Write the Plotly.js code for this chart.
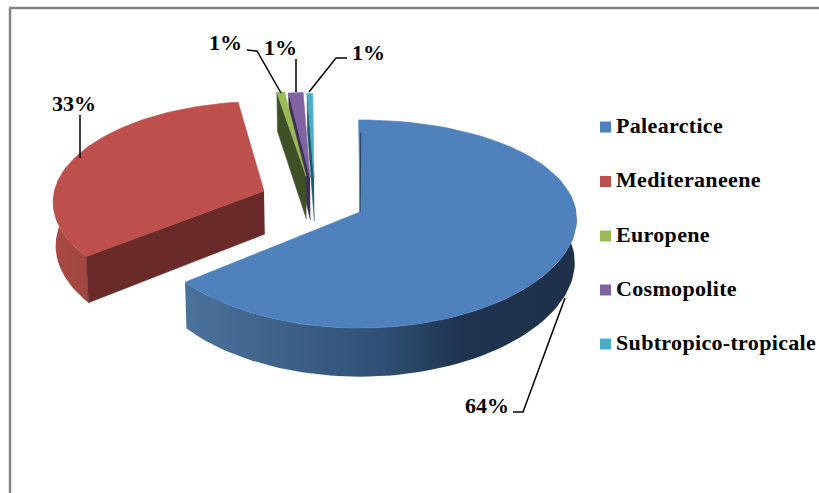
<!DOCTYPE html>
<html>
<head>
<meta charset="utf-8">
<script src="https://cdn.plot.ly/plotly-3.0.1.min.js"></script>
<style>html,body{margin:0;padding:0;background:#fff}#c{width:819px;height:493px}
#c .textpoint text{letter-spacing:.33px}</style>
</head>
<body>
<div id="c"></div>
<script>
// ---- data ----
var categories = ['Palearctice','Mediteraneene','Europene','Cosmopolite','Subtropico-tropicale'];
var values = [64.2, 33.3, 0.7, 1.3, 0.5];
var labels = ['64%','33%','1%','1%','1%'];

// ---- styles ----
var topColors  = ['#4f81bd','#bd504c','#9bbb59','#8064a2','#4bacc6'];
var faceColors = ['#1e3450','#6b2a2a','#3f4f26','#3e3055','#1d5a6a'];
var apexX   = [360,264,306,310,314];
var apexY   = [212,191,176,177,178];
var radius  = [1,0.97,0.91,0.91,0.91];
var twist   = [0,1.5,0,0,0];
var kx      = [0.07,0.115,0.115,0.115,0.115];
var ROT=-0.4, RX=216, RY=102.7, K=0.115, H=43, BASE_SCALE=0.992, CX=360;
var FONT='"Liberation Serif", "Times New Roman", serif';
var blueWallScale=[[0,'rgb(76,114,156)'],[0.5,'rgb(48,80,118)'],[0.7,'rgb(31,52,80)'],[1,'rgb(30,48,72)']];
var redWallScale=[[0,'rgb(170,75,69)'],[1,'rgb(160,70,64)']];

function pt(i,deg,r,z){
  var a=deg*Math.PI/180, u=Math.sin(a)*r*radius[i], v=-Math.cos(a)*r*radius[i], s=1/(1-K*v), sx=1/(1-kx[i]*v);
  var x=apexX[i]+RX*u*sx, y=apexY[i]+RY*v*s;
  if(z){x=CX+(x-CX)*BASE_SCALE; y+=H*s;}
  return [x,y];
}
var total=values.reduce(function(a,b){return a+b},0);
var starts=[],ends=[],acc=ROT;
values.forEach(function(v,i){starts.push(acc+twist[i]);acc+=v/total*360;ends.push(acc+twist[i]);});

var traces=[];
function poly(points,color){
  traces.push({type:'scatter',mode:'lines',x:points.map(function(p){return p[0]}),y:points.map(function(p){return p[1]}),
    fill:'toself',fillcolor:color,line:{color:color,width:0.6},hoverinfo:'skip',showlegend:false});
}
function gradPoly(points,scale){
  traces.push({type:'scatter',mode:'lines',x:points.map(function(p){return p[0]}),y:points.map(function(p){return p[1]}),
    fill:'toself',fillgradient:{type:'horizontal',colorscale:scale},line:{width:0},hoverinfo:'skip',showlegend:false});
}
function arc(i,a0,a1,z,n){var o=[];for(var k=0;k<=n;k++){o.push(pt(i,a0+(a1-a0)*k/n,1,z));}return o;}
function topFace(i){
  var p=[pt(i,0,0,false)].concat(arc(i,starts[i],ends[i],false,80));p.push(pt(i,0,0,false));poly(p,topColors[i]);
}
function radialWall(i,deg,color){
  poly([pt(i,0,0,false),pt(i,deg,1,false),pt(i,deg,1,true),pt(i,0,0,true)],color);
}
function outerWall(i,a0,a1,scale){
  gradPoly(arc(i,a0,a1,false,80).concat(arc(i,a1,a0,true,80)),scale);
}
// back slices first
[4,3,2].forEach(function(i){radialWall(i,starts[i],faceColors[i]);topFace(i);});
// red
outerWall(1,starts[1],285,redWallScale);
radialWall(1,starts[1],faceColors[1]);
topFace(1);
// blue
outerWall(0,ends[0],80,blueWallScale);
topFace(0);
var s0=pt(0,starts[0],0.85,false),s1=pt(0,0,0,false);
traces.push({type:'scatter',mode:'lines',x:[s0[0]+2,s1[0]],y:[s0[1],s1[1]],line:{color:'#24405f',width:1},hoverinfo:'skip',showlegend:false});

// leader lines
var leaders=[
 {x:[247,257,281],y:[50,51,93]},
 {x:[296,296],y:[59,92]},
 {x:[347,336,309],y:[58,58,92]},
 {x:[80,80],y:[115,158]},
 {x:[513,523,565],y:[412,412,298]}
];
leaders.forEach(function(l){
  traces.push({type:'scatter',mode:'lines',x:l.x,y:l.y,line:{color:'#000',width:1.5},hoverinfo:'skip',showlegend:false});
});
// legend entries
var legendY=[127,181.5,236,290,344];
categories.forEach(function(c,i){
  traces.push({type:'scatter',mode:'markers',name:c,x:[605.5],y:[legendY[i]],
    marker:{symbol:'square',size:11,color:topColors[i]},hoverinfo:'name',showlegend:false});
  traces.push({type:'scatter',mode:'text',name:c,x:[616],y:[legendY[i]],text:['<b>'+c+'</b>'],
    textposition:'middle right',cliponaxis:false,
    textfont:{family:FONT,size:22,color:'#000'},hoverinfo:'name',showlegend:false});
});

var labelPos=[[487,405],[74,103],[225,42],[280,47],[368,52]];
var annotations=labels.map(function(t,i){
  return {x:labelPos[i][0],y:labelPos[i][1],xref:'x',yref:'y',text:'<b>'+t+'</b>',showarrow:false,
    xanchor:'center',yanchor:'middle',font:{family:FONT,size:22,color:'#000'}};
});
var layout={
  width:819,height:493,margin:{l:0,r:0,t:0,b:0},paper_bgcolor:'#fff',plot_bgcolor:'#fff',showlegend:false,
  xaxis:{range:[0,819],visible:false,fixedrange:true},
  yaxis:{range:[493,0],visible:false,fixedrange:true},
  annotations:annotations,
  shapes:[
   {type:'line',xref:'x',yref:'y',x0:10,x1:10,y0:8,y1:493,line:{color:'#868686',width:2.5}},
   {type:'line',xref:'x',yref:'y',x0:9,x1:819,y0:8,y1:8,line:{color:'#868686',width:2.5}}
  ]
};
Plotly.newPlot('c',traces,layout,{displayModeBar:false,staticPlot:true});
</script>
</body>
</html>
